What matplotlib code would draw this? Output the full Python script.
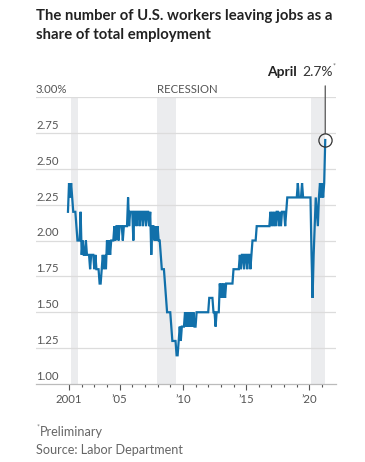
import numpy as np
import matplotlib
matplotlib.use('Agg')
import matplotlib.pyplot as plt

# Quits rate, percent of total employment, monthly from Dec 2000
start_year = 2000 + 11 / 12.
rate_2000 = [2.2]
rate_2001 = [2.4, 2.3, 2.4, 2.3, 2.2, 2.2, 2.2, 2.1, 2.0, 2.0, 2.0, 2.2]
rate_2002 = [1.9, 2.0, 1.9, 1.9, 2.0, 1.9, 1.9, 1.9, 1.8, 1.9, 1.9, 1.9]
rate_2003 = [1.8, 1.9, 1.8, 1.8, 1.8, 1.7, 1.7, 1.8, 1.9, 1.8, 1.9, 1.8]
rate_2004 = [2.0, 1.9, 2.0, 1.9, 2.0, 2.0, 2.0, 2.1, 2.0, 2.1, 2.1, 2.0]
rate_2005 = [2.1, 2.1, 2.1, 2.0, 2.1, 2.1, 2.1, 2.1, 2.3, 2.1, 2.2, 2.2]
rate_2006 = [2.2, 2.0, 2.2, 2.2, 2.1, 2.2, 2.2, 2.1, 2.2, 2.2, 2.1, 2.2]
rate_2007 = [2.2, 2.1, 2.2, 2.2, 2.1, 2.2, 1.9, 2.1, 2.1, 2.0, 2.1, 2.0]
rate_2008 = [2.1, 2.0, 2.0, 1.9, 1.8, 1.8, 1.8, 1.7, 1.6, 1.5, 1.5, 1.5]
rate_2009 = [1.5, 1.4, 1.3, 1.3, 1.3, 1.3, 1.2, 1.2, 1.3, 1.4, 1.3, 1.4]
rate_2010 = [1.4, 1.4, 1.5, 1.4, 1.5, 1.4, 1.5, 1.4, 1.5, 1.4, 1.5, 1.4]
rate_2011 = [1.4, 1.5, 1.5, 1.5, 1.5, 1.5, 1.5, 1.5, 1.5, 1.5, 1.5, 1.5]
rate_2012 = [1.5, 1.6, 1.6, 1.6, 1.6, 1.5, 1.5, 1.4, 1.5, 1.5, 1.5, 1.7]
rate_2013 = [1.6, 1.7, 1.6, 1.7, 1.6, 1.7, 1.7, 1.7, 1.7, 1.7, 1.7, 1.7]
rate_2014 = [1.8, 1.8, 1.8, 1.8, 1.8, 1.8, 1.9, 1.8, 1.9, 1.9, 1.8, 1.9]
rate_2015 = [1.9, 1.8, 1.9, 1.9, 1.8, 1.9, 2.0, 2.0, 2.0, 2.0, 2.1, 2.1]
rate_2016 = [2.1, 2.1, 2.1, 2.1, 2.1, 2.1, 2.1, 2.1, 2.1, 2.1, 2.1, 2.2]
rate_2017 = [2.1, 2.2, 2.1, 2.2, 2.1, 2.2, 2.2, 2.1, 2.2, 2.1, 2.2, 2.2]
rate_2018 = [2.2, 2.1, 2.2, 2.3, 2.3, 2.3, 2.3, 2.3, 2.3, 2.3, 2.3, 2.3]
rate_2019 = [2.3, 2.4, 2.3, 2.3, 2.3, 2.4, 2.3, 2.3, 2.3, 2.3, 2.3, 2.3]
rate_2020 = [2.3, 2.3, 1.9, 1.6, 1.9, 2.1, 2.3, 2.2, 2.1, 2.3, 2.4, 2.3]
rate_2021 = [2.4, 2.3, 2.4, 2.7]

rate = np.array(rate_2000 + rate_2001 + rate_2002 + rate_2003 + rate_2004 +
                rate_2005 + rate_2006 + rate_2007 + rate_2008 + rate_2009 +
                rate_2010 + rate_2011 + rate_2012 + rate_2013 + rate_2014 +
                rate_2015 + rate_2016 + rate_2017 + rate_2018 + rate_2019 +
                rate_2020 + rate_2021)
years = start_year + np.arange(rate.size) / 12.

# Recession periods (decimal years)
recessions = [(2001.15, 2001.72), (2007.92, 2009.42), (2020.1, 2021.27)]

yticks = [1.00, 1.25, 1.50, 1.75, 2.00, 2.25, 2.50, 2.75, 3.00]
ytick_labels = ['1.00', '1.25', '1.50', '1.75', '2.00', '2.25', '2.50',
                '2.75', '3.00%']
major_years = [2001, 2005, 2010, 2015, 2020]
major_labels = ['2001', '\u201905', '\u201910', '\u201915', '\u201920']
minor_years = list(range(2001, 2022))

plt.rcParams['font.family'] = ['Lato', 'DejaVu Sans']

W, H = 365, 462
fig = plt.figure(figsize=(W / 100., H / 100.), dpi=100)
ax = fig.add_axes([36. / W, 1 - 384. / H, 300. / W, 287. / H])

line_color = '#1170aa'
grid_color = '#dcdcdc'
text_color = '#555555'

# Recession bands
for r0, r1 in recessions:
    ax.axvspan(r0, r1, ymin=0, ymax=1, color='#ebecee', lw=0, zorder=0)

# Horizontal grid lines
for v in yticks[1:]:
    ax.axhline(v, color=grid_color, lw=0.9, zorder=1)

ax.plot(years, rate, '-', color=line_color, lw=1.6, zorder=3,
        solid_joinstyle='miter')

ax.set_xlim(1998.39, 2022.1)
ax.set_ylim(1.0, 3.0)

for s in ['top', 'right', 'left']:
    ax.spines[s].set_visible(False)
ax.spines['bottom'].set_color('#bbbbbb')
ax.spines['bottom'].set_linewidth(0.9)

ax.set_yticks([])
ax.set_xticks(major_years)
ax.set_xticklabels(major_labels)
ax.set_xticks(minor_years, minor=True)
ax.tick_params(axis='x', which='major', length=4.5, width=0.8,
               color='#555555', labelsize=8.2, labelcolor=text_color, pad=3)
ax.tick_params(axis='x', which='minor', length=2.2, width=0.8,
               color='#555555')

# Y labels sit above their gridlines at the left edge
for v, lab in zip(yticks, ytick_labels):
    ax.annotate(lab, xy=(0, v), xycoords=ax.get_yaxis_transform(),
                xytext=(0, 1.5), textcoords='offset points',
                ha='left', va='bottom', fontsize=8.2, color=text_color)

ax.annotate('RECESSION', xy=(recessions[1][0], 3.0), xytext=(0, 1.5),
            textcoords='offset points', ha='left', va='bottom',
            fontsize=8.2, color=text_color)

# Latest value callout
lx, ly = years[-1], rate[-1]
ax.plot([lx], [ly], 'o', ms=9.5, mfc='none', mec='#333333', mew=0.9,
        zorder=4, clip_on=False)
ax.annotate('', xy=(lx, ly), xytext=(0, 39), textcoords='offset points',
            arrowprops=dict(arrowstyle='-', color='#555555', lw=0.9,
                            shrinkA=0, shrinkB=4.8))
ax.annotate('2.7%', xy=(lx, ly), xytext=(-16.5, 49),
            textcoords='offset points', ha='left', va='center',
            fontsize=10, color='#333333')
ax.annotate('April', xy=(lx, ly), xytext=(-20.5, 49),
            textcoords='offset points', ha='right', va='center',
            fontsize=10, fontweight='bold', color='#222222')
ax.annotate('*', xy=(lx, ly), xytext=(5.6, 53.5), textcoords='offset points',
            ha='left', va='center', fontsize=5, color='#666666')

fig.text(36. / W, 1 - 9. / H,
         'The number of U.S. workers leaving jobs as a\nshare of total employment',
         ha='left', va='top', fontsize=10.7, fontweight='bold',
         color='#222222', linespacing=1.45)

fig.text(36.5 / W, 1 - 427. / H, '*', ha='left', va='center', fontsize=5,
         color='#777777')
fig.text(40. / W, 1 - 432. / H, 'Preliminary', ha='left', va='center',
         fontsize=9.1, color='#666666')
fig.text(36. / W, 1 - 450. / H, 'Source: Labor Department', ha='left',
         va='center', fontsize=9.1, color='#666666')

fig.savefig('out.png', dpi=100)
